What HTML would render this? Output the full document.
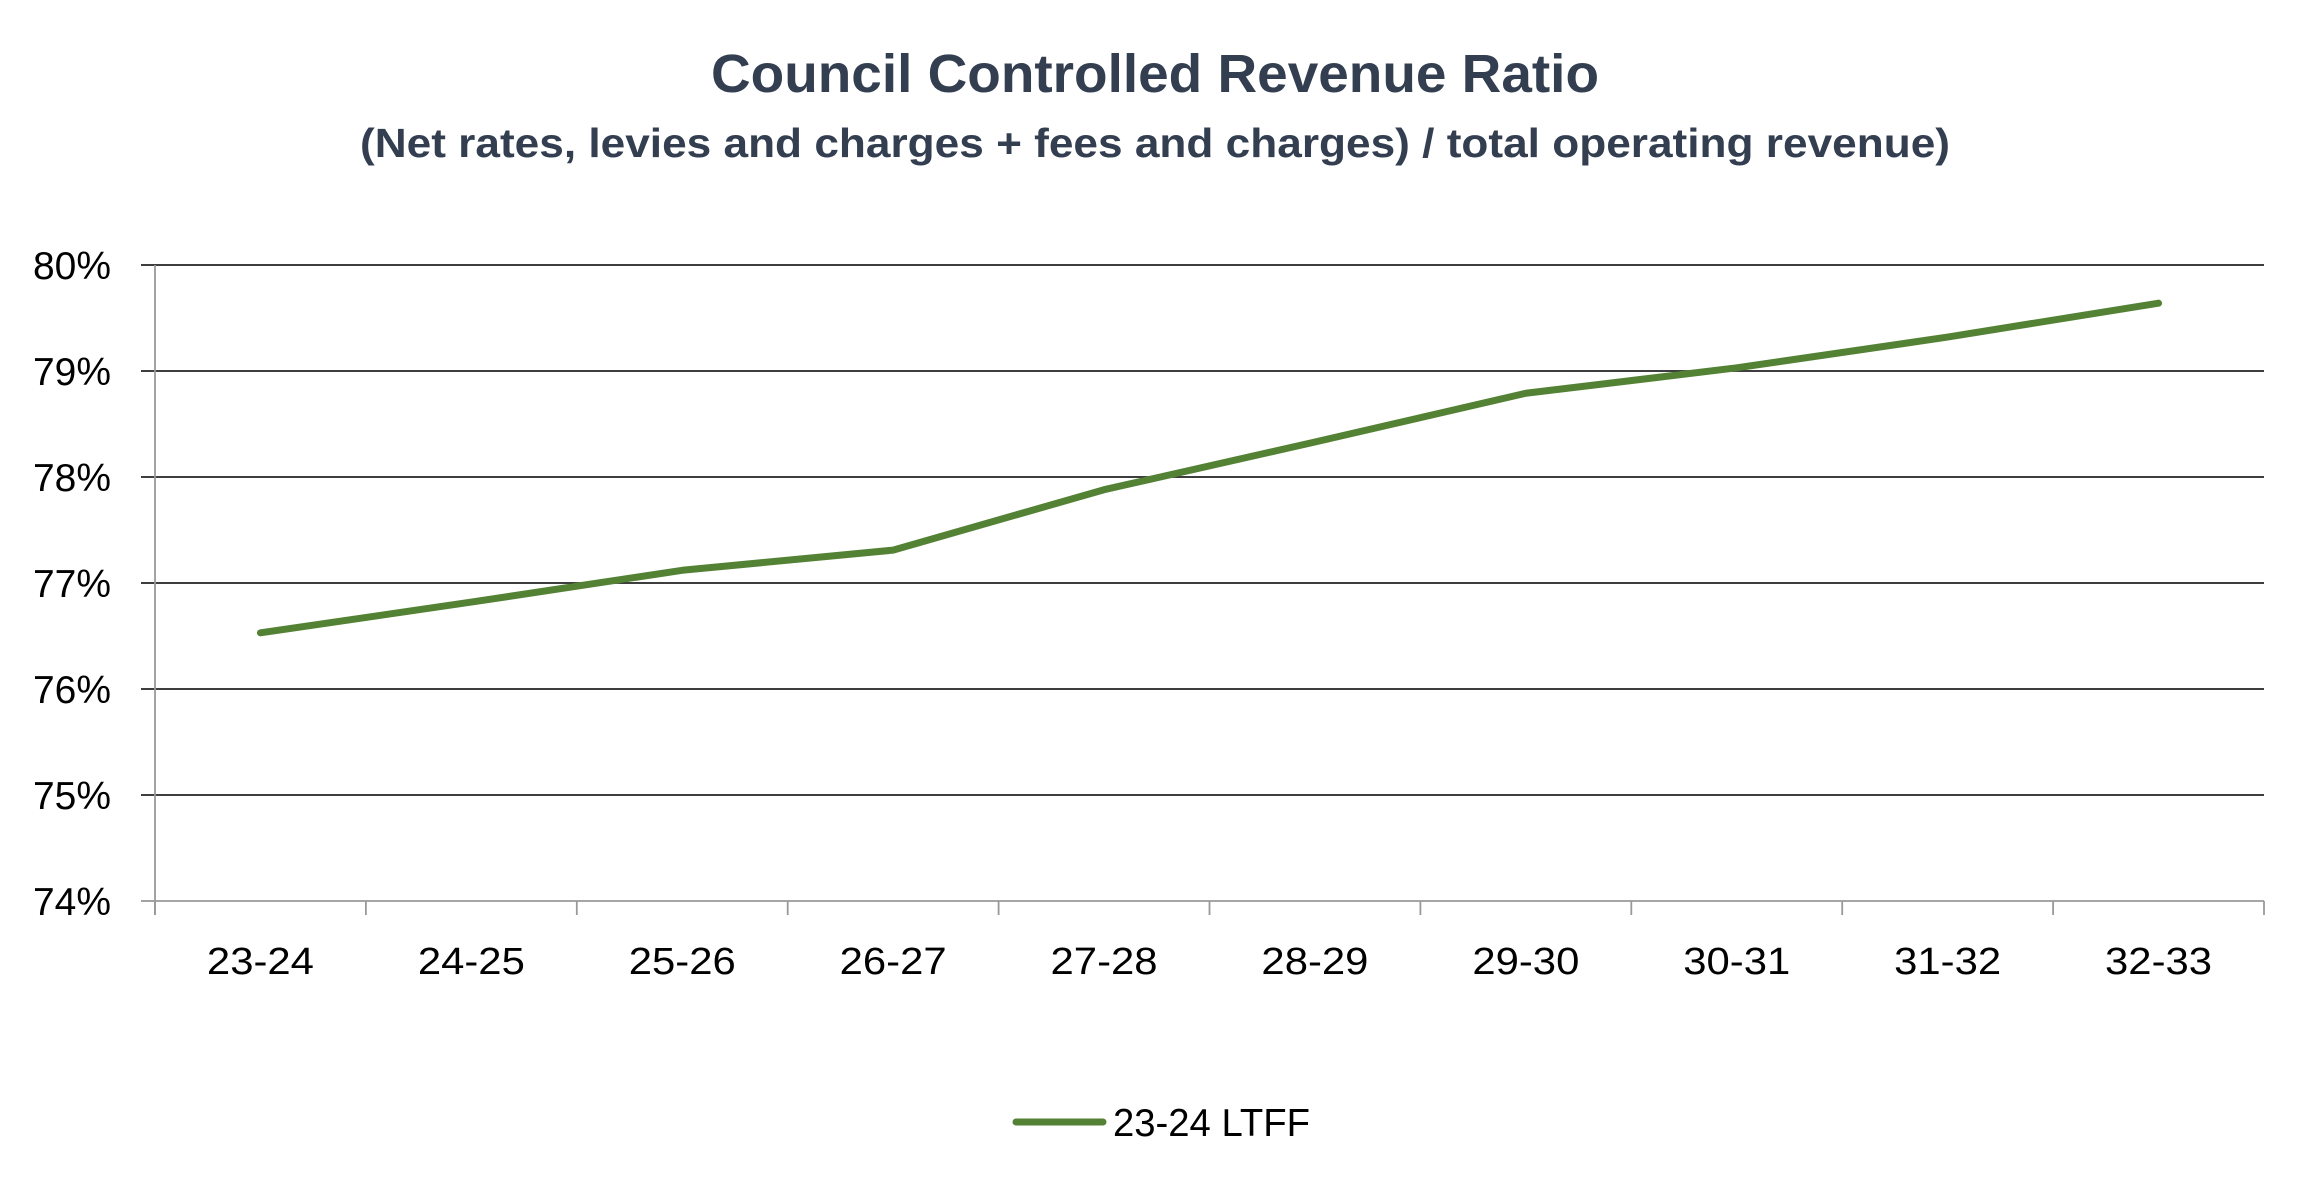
<!DOCTYPE html>
<html><head><meta charset="utf-8"><style>
html,body{margin:0;padding:0;background:#fff;}
svg{display:block;font-family:"Liberation Sans",sans-serif;}
</style></head><body>
<svg id="chart" width="2310" height="1182" viewBox="0 0 2310 1182">
<text x="1155" y="92" text-anchor="middle" font-size="54" font-weight="bold" fill="#333f50" textLength="888" lengthAdjust="spacingAndGlyphs">Council Controlled Revenue Ratio</text>
<text x="1155" y="157" text-anchor="middle" font-size="41" font-weight="bold" fill="#333f50" textLength="1590" lengthAdjust="spacingAndGlyphs">(Net rates, levies and charges + fees and charges) / total operating revenue)</text>
<g id="grid"></g><g id="axes"></g><g id="series"></g>
<g>
<line x1="1016" y1="1122" x2="1103" y2="1122" stroke="#548235" stroke-width="7" stroke-linecap="round"/>
<text x="1113" y="1136" font-size="39" fill="#000" textLength="197" lengthAdjust="spacingAndGlyphs">23-24 LTFF</text>
</g>
</svg>
<script>
const categories=["23-24","24-25","25-26","26-27","27-28","28-29","29-30","30-31","31-32","32-33"];
const seriesValues=[76.53,76.82,77.12,77.31,77.88,78.33,78.79,79.03,79.32,79.64];
const yTicks=[74,75,76,77,78,79,80];
const yTickLabels=["74%","75%","76%","77%","78%","79%","80%"];
const NS="http://www.w3.org/2000/svg";
const L=155,R=2264,T=265,B=901,yMin=74,yMax=80;
const bw=(R-L)/categories.length;
function xs(i){return L+bw*(i+0.5);}
function ys(v){return B-(v-yMin)/(yMax-yMin)*(B-T);}
function mk(tag,attrs,parent){const e=document.createElementNS(NS,tag);for(const k in attrs)e.setAttribute(k,attrs[k]);parent.appendChild(e);return e;}
const grid=document.getElementById('grid'),axes=document.getElementById('axes'),series=document.getElementById('series');
yTicks.forEach((v,i)=>{
  const y=ys(v);
  if(v!==yMin){const g=mk('line',{x1:141,y1:y,x2:R,y2:y,stroke:'#222','stroke-width':1.8},grid);
  
  }
  else{const t=mk('line',{x1:141,y1:y,x2:L,y2:y,stroke:'#999','stroke-width':1.8},axes);
  
  }
  const lb=mk('text',{x:111,y:y+14,'text-anchor':'end','font-size':39,fill:'#000',textLength:78,lengthAdjust:'spacingAndGlyphs'},axes);
  lb.textContent=yTickLabels[i];
  
  
});
const ya=mk('line',{x1:L,y1:T,x2:L,y2:B+14,stroke:'#999','stroke-width':1.8},axes);


const xa=mk('line',{x1:L,y1:B,x2:R,y2:B,stroke:'#999','stroke-width':1.8},axes);


for(let i=0;i<=categories.length;i++){
  const t=mk('line',{x1:L+bw*i,y1:B,x2:L+bw*i,y2:B+14,stroke:'#999','stroke-width':1.8},axes);
  
  
}
categories.forEach((c,i)=>{
  const lb=mk('text',{x:xs(i),y:974,'text-anchor':'middle','font-size':38,fill:'#000',textLength:107,lengthAdjust:'spacingAndGlyphs'},axes);
  lb.textContent=c;
  
  
});
const pts=seriesValues.map((v,i)=>xs(i)+','+ys(v)).join(' ');
const pl=mk('polyline',{points:pts,fill:'none',stroke:'#548235','stroke-width':7,'stroke-linejoin':'round','stroke-linecap':'round'},series);


</script>
</body></html>
